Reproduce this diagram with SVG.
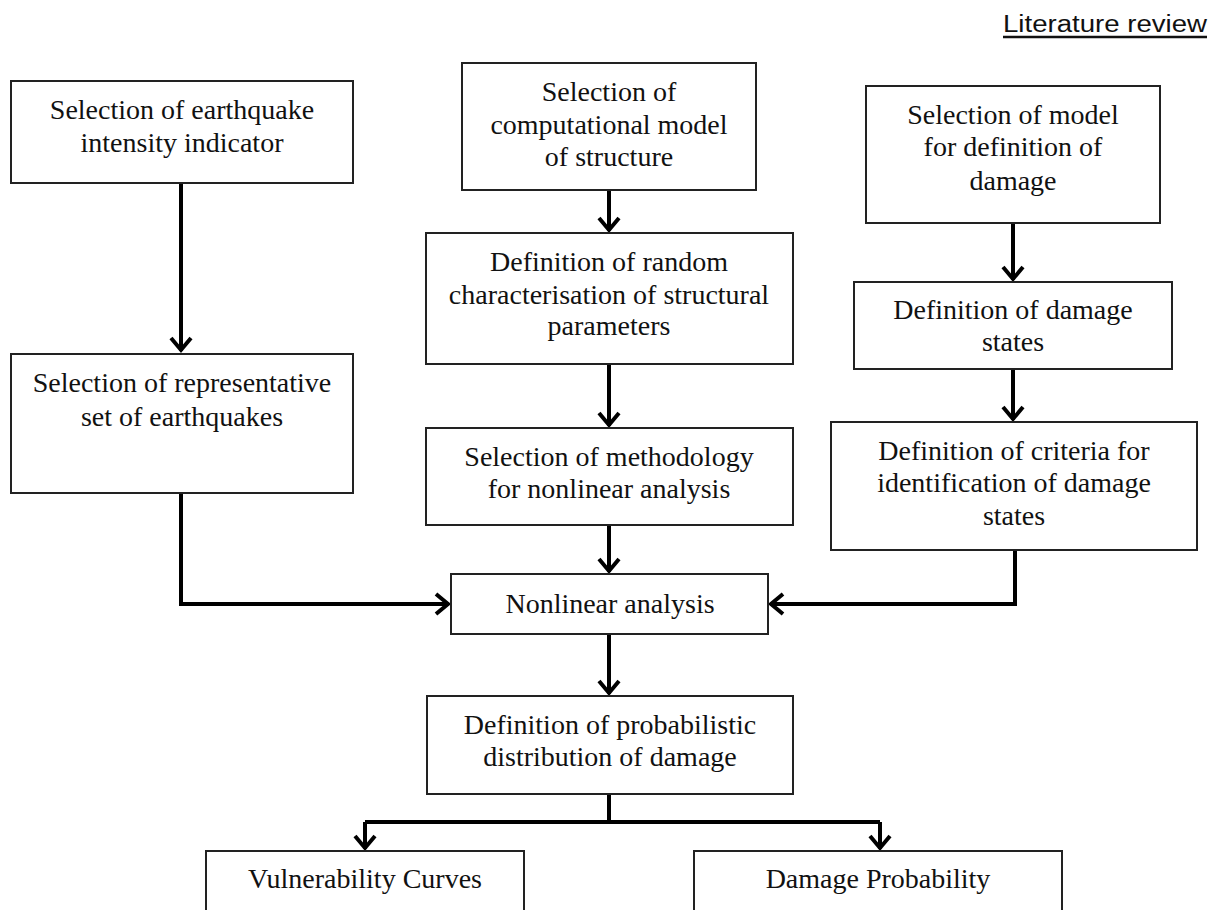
<svg xmlns="http://www.w3.org/2000/svg" width="1217" height="910" viewBox="0 0 1217 910">
<style>
.box{fill:#fff;stroke:#222;stroke-width:2}
.t{font-family:"Liberation Serif","Times New Roman",serif;font-size:28px;fill:#111;text-anchor:middle}
.c{fill:none;stroke:#000;stroke-width:4}
.hdr{font-family:"Liberation Sans",Arial,sans-serif;font-size:23px;fill:#111}
</style>
<defs>
<marker id="a" markerUnits="userSpaceOnUse" markerWidth="30" markerHeight="30" viewBox="-15 -15 30 30" refX="0" refY="0" orient="auto">
<path d="M-13,-10 L-1,0 L-13,10" fill="none" stroke="#000" stroke-width="4"/>
</marker>
</defs>
<rect width="1217" height="910" fill="#fff"/>
<text class="hdr" x="1003" y="32" textLength="204" lengthAdjust="spacingAndGlyphs">Literature review</text>
<line x1="1003" y1="37" x2="1207" y2="37" stroke="#111" stroke-width="2.5"/>
<g id="connectors">
<path class="c" d="M181,183 V351" marker-end="url(#a)"/>
<path class="c" d="M609,190 V231" marker-end="url(#a)"/>
<path class="c" d="M609,364 V426" marker-end="url(#a)"/>
<path class="c" d="M609,525 V572" marker-end="url(#a)"/>
<path class="c" d="M1013,223 V280" marker-end="url(#a)"/>
<path class="c" d="M1013,369 V420" marker-end="url(#a)"/>
<path class="c" d="M181,493 V604 H449" marker-end="url(#a)"/>
<path class="c" d="M1015,550 V604 H770" marker-end="url(#a)"/>
<path class="c" d="M609,634 V694" marker-end="url(#a)"/>
<path class="c" d="M609,794 V822"/>
<path class="c" d="M365,822 H880"/>
<path class="c" d="M365,822 V849" marker-end="url(#a)"/>
<path class="c" d="M880,822 V849" marker-end="url(#a)"/>
</g>
<g id="n1"><rect class="box" x="11" y="81" width="342" height="102"/>
<text class="t" x="182" y="119">Selection of earthquake</text>
<text class="t" x="182" y="152">intensity indicator</text></g>
<g id="n2"><rect class="box" x="462" y="63" width="294" height="127"/>
<text class="t" x="609" y="101">Selection of</text>
<text class="t" x="609" y="134">computational model</text>
<text class="t" x="609" y="166">of structure</text></g>
<g id="n3"><rect class="box" x="866" y="86" width="294" height="137"/>
<text class="t" x="1013" y="124">Selection of model</text>
<text class="t" x="1013" y="156">for definition of</text>
<text class="t" x="1013" y="190">damage</text></g>
<g id="n4"><rect class="box" x="426" y="233" width="367" height="131"/>
<text class="t" x="609" y="271">Definition of random</text>
<text class="t" x="609" y="304">characterisation of structural</text>
<text class="t" x="609" y="335">parameters</text></g>
<g id="n5"><rect class="box" x="854" y="282" width="318" height="87"/>
<text class="t" x="1013" y="319">Definition of damage</text>
<text class="t" x="1013" y="351">states</text></g>
<g id="n6"><rect class="box" x="11" y="354" width="342" height="139"/>
<text class="t" x="182" y="392">Selection of representative</text>
<text class="t" x="182" y="426">set of earthquakes</text></g>
<g id="n7"><rect class="box" x="426" y="428" width="367" height="97"/>
<text class="t" x="609" y="466">Selection of methodology</text>
<text class="t" x="609" y="498">for nonlinear analysis</text></g>
<g id="n8"><rect class="box" x="831" y="422" width="366" height="128"/>
<text class="t" x="1014" y="460">Definition of criteria for</text>
<text class="t" x="1014" y="492">identification of damage</text>
<text class="t" x="1014" y="525">states</text></g>
<g id="n9"><rect class="box" x="451" y="574" width="317" height="60"/>
<text class="t" x="610" y="613">Nonlinear analysis</text></g>
<g id="n10"><rect class="box" x="427" y="696" width="366" height="98"/>
<text class="t" x="610" y="734">Definition of probabilistic</text>
<text class="t" x="610" y="766">distribution of damage</text></g>
<g id="n11"><rect class="box" x="206" y="851" width="318" height="70"/>
<text class="t" x="365" y="888">Vulnerability Curves</text></g>
<g id="n12"><rect class="box" x="694" y="851" width="368" height="70"/>
<text class="t" x="878" y="888">Damage Probability</text></g>
</svg>
